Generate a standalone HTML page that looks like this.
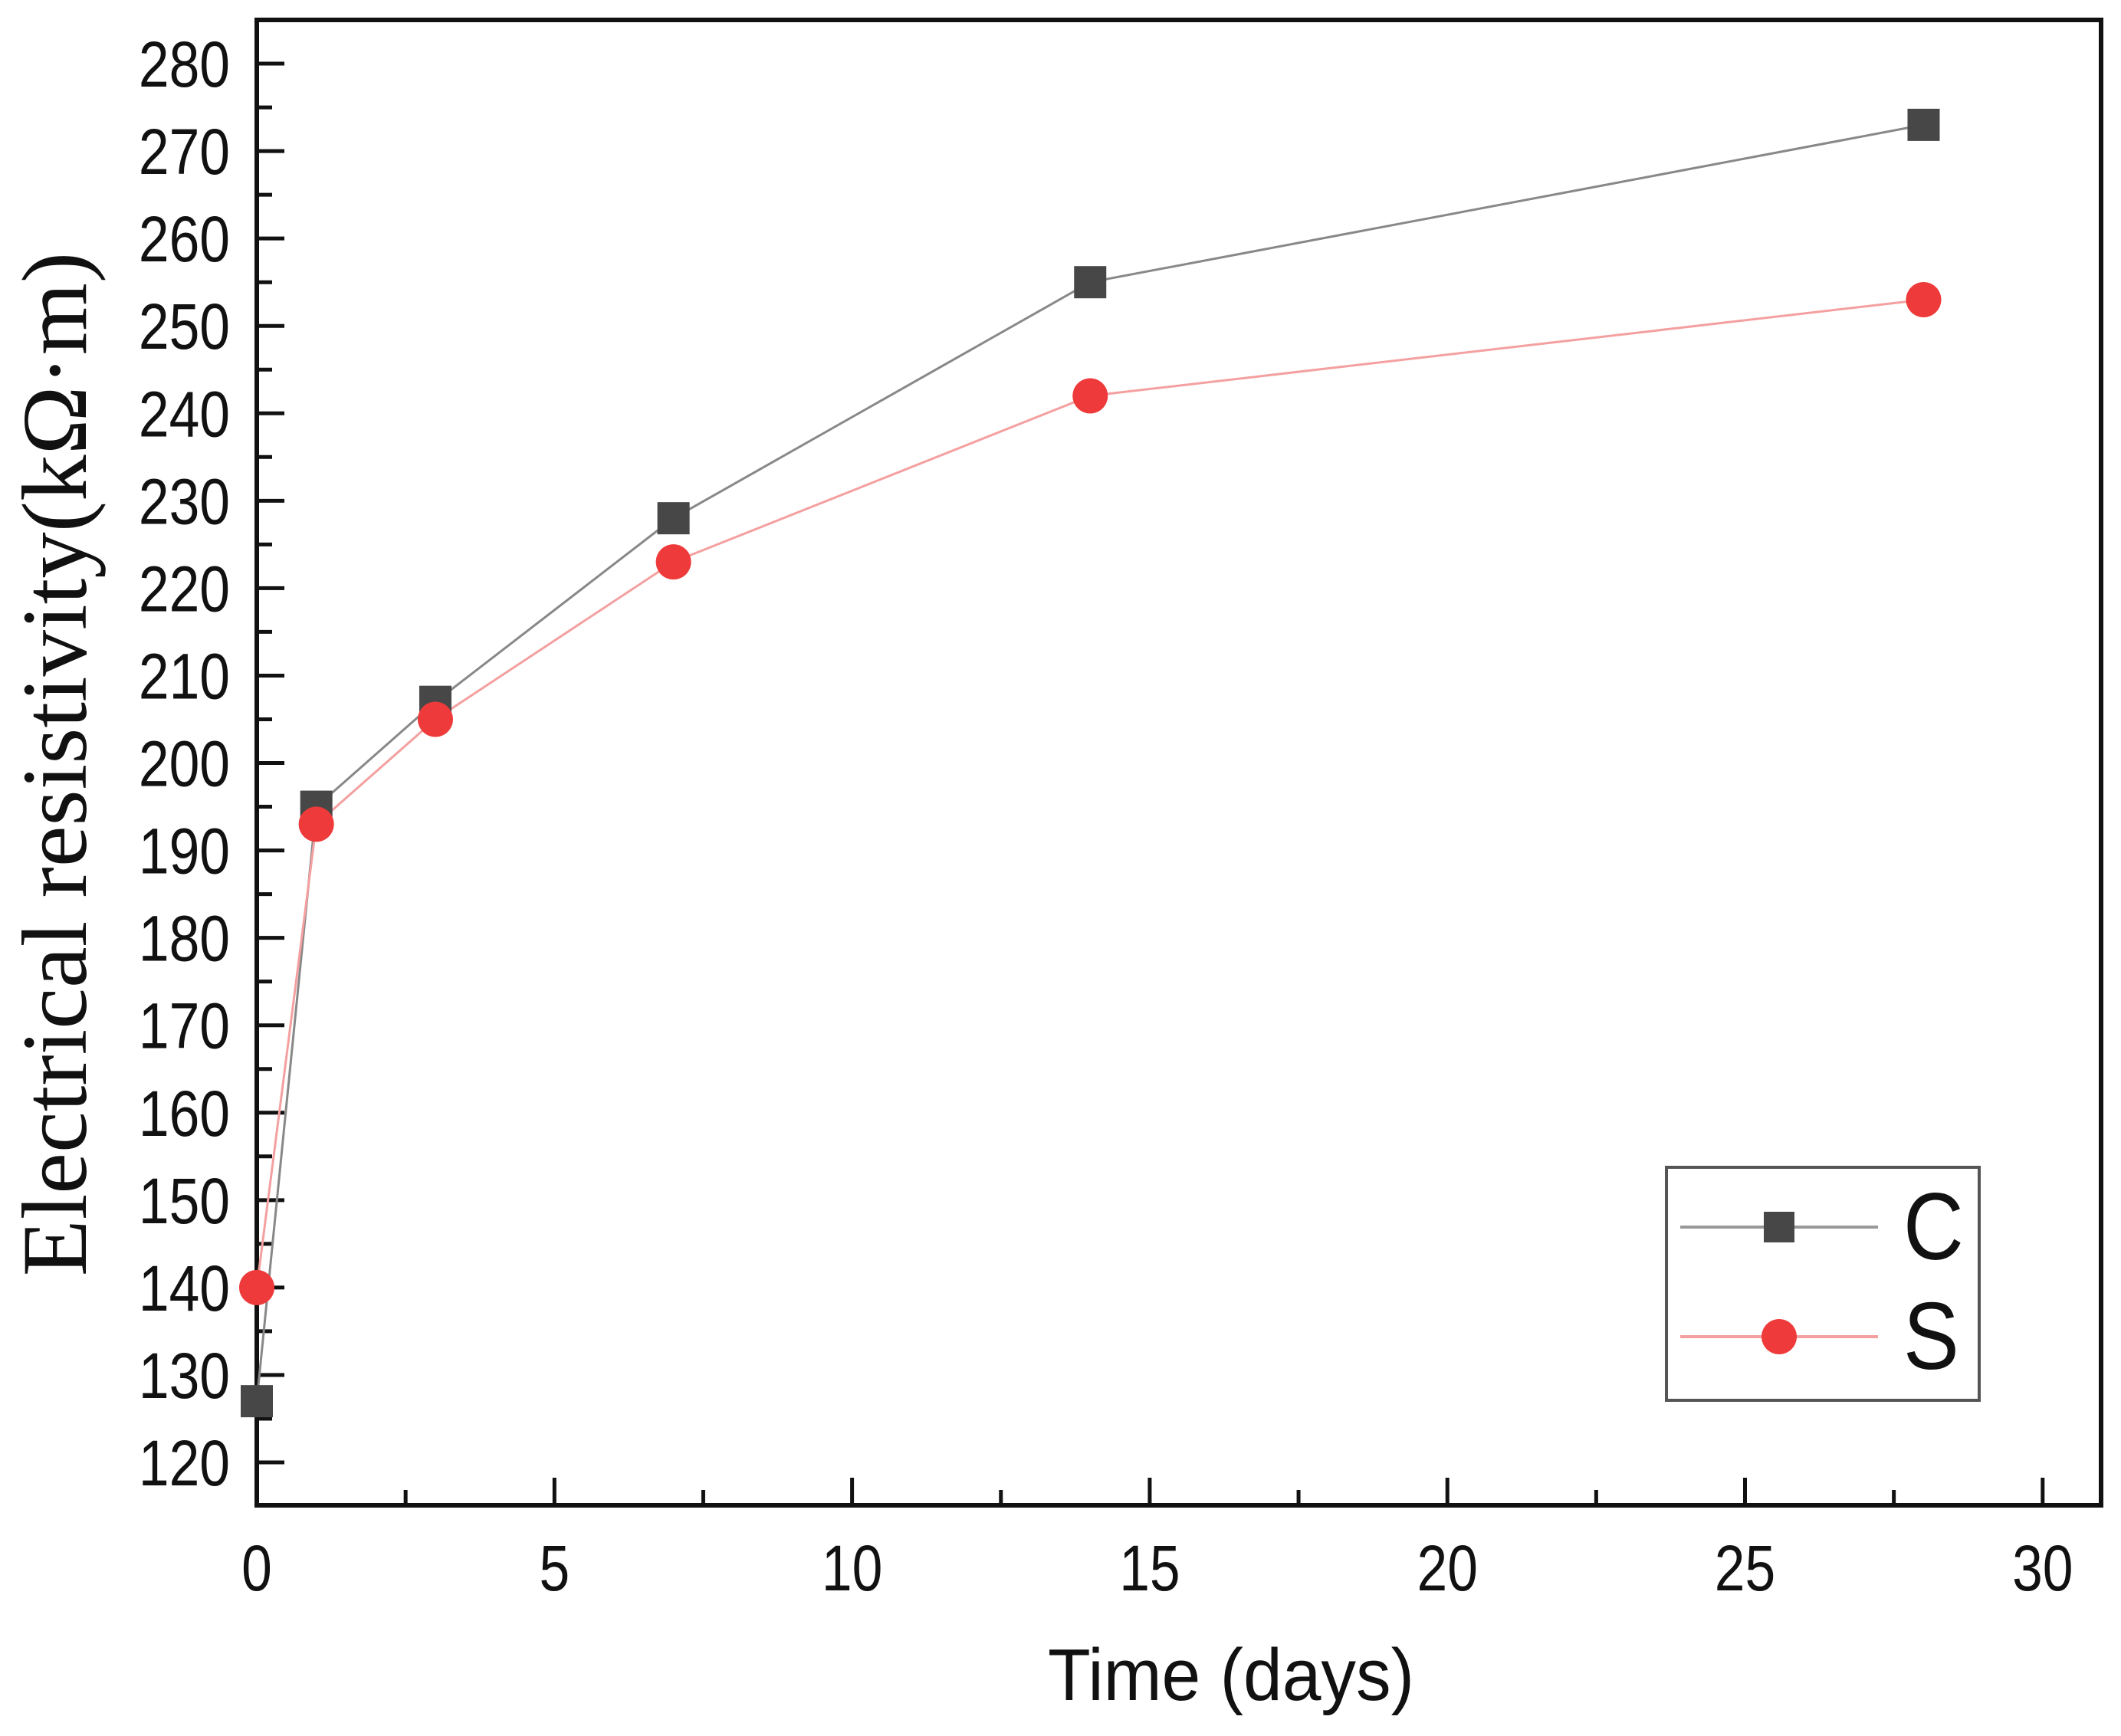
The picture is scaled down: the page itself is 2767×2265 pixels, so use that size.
<!DOCTYPE html>
<html><head><meta charset="utf-8"><style>
html,body{margin:0;padding:0;background:#fff;}
svg{display:block;}
</style></head><body>
<svg id="chart" width="2767" height="2265" viewBox="0 0 2767 2265" xmlns="http://www.w3.org/2000/svg">
<g id="grid"></g>
<g id="marks"></g>
<text transform="translate(1606,2218) scale(0.95,1)" font-family="Liberation Sans, sans-serif" font-size="96" text-anchor="middle" fill="#111">Time (days)</text>
<text transform="translate(112,997) rotate(-90)" font-family="Liberation Serif, serif" font-size="121" text-anchor="middle" fill="#111">Electrical resistivity(kΩ·m)</text>
<g>
<rect x="2174" y="1523" width="408" height="304" fill="#fff" stroke="#555" stroke-width="4"/>
<g>
<line x1="2192" y1="1601" x2="2450" y2="1601" stroke="#999" stroke-width="4"/>
<rect x="2301" y="1581" width="40" height="40" fill="#474747"/>
<text transform="translate(2483,1643) scale(0.88,1)" font-family="Liberation Sans, sans-serif" font-size="124" fill="#111">C</text>
</g>
<g>
<line x1="2192" y1="1744" x2="2450" y2="1744" stroke="#f4a0a0" stroke-width="4"/>
<circle cx="2321" cy="1744" r="23" fill="#ee3a3a"/>
<text transform="translate(2483,1786) scale(0.88,1)" font-family="Liberation Sans, sans-serif" font-size="124" fill="#111">S</text>
</g>
</g>
</svg>
<script>
const days = [0, 1, 3, 7, 14, 28];
const seriesC = [127, 195, 207, 228, 255, 273];
const seriesS = [140, 193, 205, 223, 242, 253];
const xTicks = [0, 5, 10, 15, 20, 25, 30];
const yTicks = [120, 130, 140, 150, 160, 170, 180, 190, 200, 210, 220, 230, 240, 250, 260, 270, 280];

const NS = 'http://www.w3.org/2000/svg';
const L = 335, R = 2741, T = 26, B = 1964;
function xs(v){ return 335 + v * 77.66; }
function ys(v){ return 1908 - (v - 120) * 11.406; }
function mk(tag, attrs, parent){
  const e = document.createElementNS(NS, tag);
  for (const k in attrs) e.setAttribute(k, attrs[k]);
  parent.appendChild(e); return e;
}
const grid = document.getElementById('grid');
const marks = document.getElementById('marks');

const frame = mk('rect', {x:L, y:T, width:R-L, height:B-T, fill:'none', stroke:'#111', 'stroke-width':6}, grid);



xTicks.forEach(v => {
  const x = xs(v);
  const t = mk('line', {x1:x, y1:B, x2:x, y2:B-36, stroke:'#111', 'stroke-width':5}, grid);
  
  
  const lbl = mk('text', {transform:'translate(' + x + ',2075) scale(0.85,1)', 'font-family':'Liberation Sans, sans-serif', 'font-size':84, 'text-anchor':'middle', fill:'#111'}, grid);
  lbl.textContent = v;
  
  
  if (v + 2.5 < 31) {
    const m = mk('line', {x1:xs(v+2.5), y1:B, x2:xs(v+2.5), y2:B-20, stroke:'#111', 'stroke-width':5}, grid);
    
    
  }
});
yTicks.forEach(v => {
  const y = ys(v);
  const t = mk('line', {x1:L, y1:y, x2:L+36, y2:y, stroke:'#111', 'stroke-width':5}, grid);
  
  
  const lbl = mk('text', {transform:'translate(300,' + (y+30) + ') scale(0.85,1)', 'font-family':'Liberation Sans, sans-serif', 'font-size':84, 'text-anchor':'end', fill:'#111'}, grid);
  lbl.textContent = v;
  
  
  if (v + 5 <= 285) {
    const m = mk('line', {x1:L, y1:ys(v+5), x2:L+20, y2:ys(v+5), stroke:'#111', 'stroke-width':5}, grid);
    
    
  }
});

function pts(vals){ return days.map((d,i) => xs(d) + ',' + ys(vals[i])).join(' '); }
const lc = mk('polyline', {points:pts(seriesC), fill:'none', stroke:'#888', 'stroke-width':3}, marks);


const ls = mk('polyline', {points:pts(seriesS), fill:'none', stroke:'#f4a0a0', 'stroke-width':3}, marks);


days.forEach((d,i) => {
  const r = mk('rect', {x:xs(d)-21, y:ys(seriesC[i])-21, width:42, height:42, fill:'#474747'}, marks);
  
  
});
days.forEach((d,i) => {
  const c = mk('circle', {cx:xs(d), cy:ys(seriesS[i]), r:23, fill:'#ee3a3a'}, marks);
  
  
});
</script>
</body></html>
